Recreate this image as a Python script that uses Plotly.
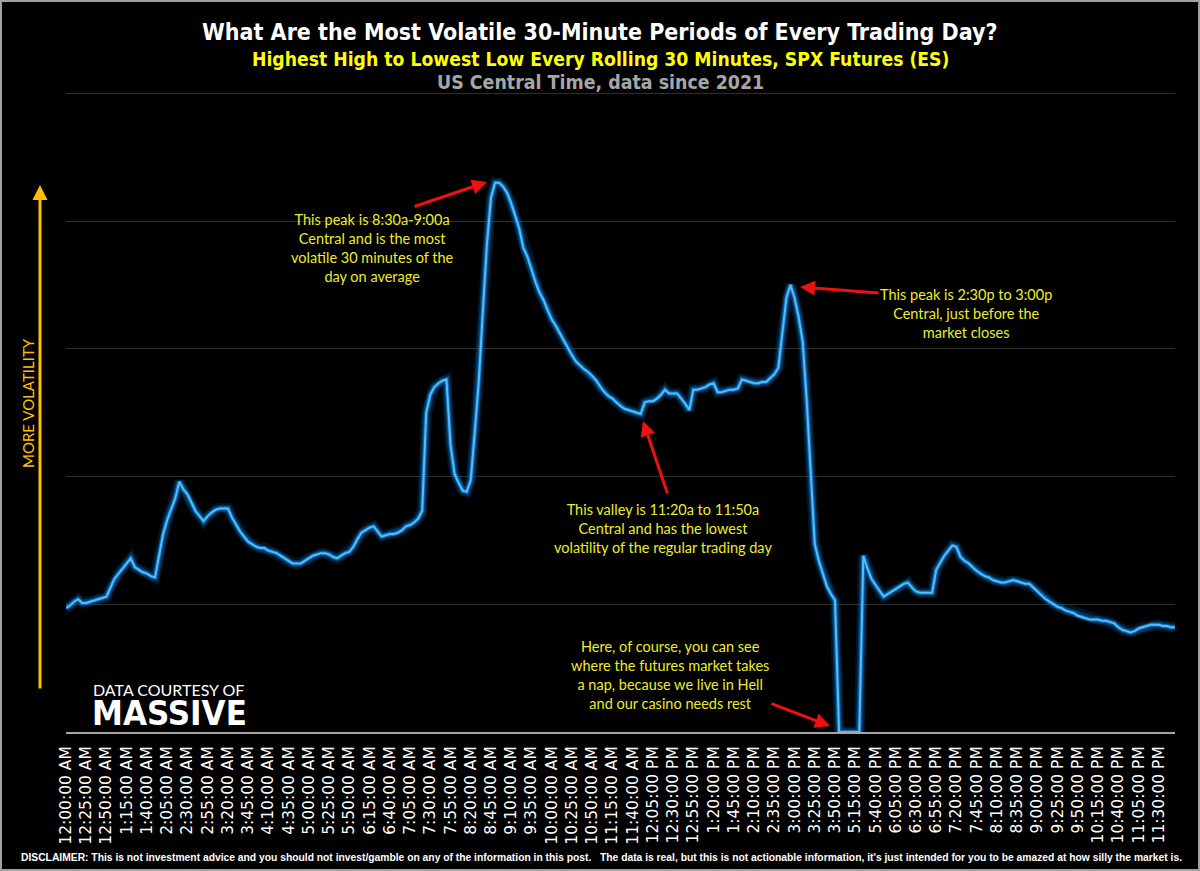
import plotly.graph_objects as go

# Categories: 5-minute bars (US Central), the futures break 4:05p-5:00p is not in the data
times = []
for m in range(0, 1435, 5):
    if 965 <= m <= 1020:
        continue
    h, mm = divmod(m, 60)
    h12 = h % 12 or 12
    times.append(f"{h12}:{mm:02d}:00 {'AM' if h < 12 else 'PM'}")

# Rolling 30-minute range (highest high - lowest low)
volatility = [
    0.97, 0.99, 1.02, 1.04, 1.01, 1.01, 1.02, 1.03, 1.04, 1.05,
    1.06, 1.13, 1.20, 1.24, 1.28, 1.32, 1.36, 1.29, 1.27, 1.25,
    1.24, 1.22, 1.21, 1.38, 1.55, 1.66, 1.75, 1.83, 1.96, 1.90,
    1.86, 1.79, 1.73, 1.69, 1.65, 1.69, 1.72, 1.74, 1.75, 1.75,
    1.75, 1.68, 1.62, 1.57, 1.53, 1.49, 1.47, 1.45, 1.44, 1.44,
    1.42, 1.41, 1.40, 1.38, 1.36, 1.34, 1.32, 1.32, 1.32, 1.34,
    1.36, 1.38, 1.39, 1.40, 1.40, 1.39, 1.37, 1.36, 1.38, 1.40,
    1.41, 1.45, 1.51, 1.56, 1.58, 1.60, 1.61, 1.57, 1.53, 1.54,
    1.55, 1.55, 1.56, 1.58, 1.61, 1.62, 1.64, 1.67, 1.73, 2.50,
    2.64, 2.70, 2.73, 2.75, 2.76, 2.25, 2.02, 1.95, 1.89, 1.88,
    1.97, 2.35, 2.75, 3.30, 3.82, 4.18, 4.30, 4.30, 4.27, 4.22,
    4.14, 4.04, 3.94, 3.79, 3.72, 3.62, 3.52, 3.44, 3.38, 3.30,
    3.23, 3.18, 3.12, 3.06, 3.00, 2.95, 2.90, 2.87, 2.84, 2.82,
    2.79, 2.75, 2.70, 2.66, 2.63, 2.61, 2.58, 2.55, 2.53, 2.52,
    2.51, 2.50, 2.49, 2.58, 2.59, 2.59, 2.61, 2.64, 2.68, 2.65,
    2.65, 2.65, 2.61, 2.57, 2.52, 2.68, 2.68, 2.69, 2.70, 2.72,
    2.73, 2.66, 2.66, 2.67, 2.68, 2.68, 2.69, 2.76, 2.75, 2.74,
    2.73, 2.73, 2.74, 2.74, 2.77, 2.80, 2.85, 3.15, 3.40, 3.50,
    3.40, 3.25, 3.06, 2.60, 1.99, 1.47, 1.34, 1.24, 1.14, 1.08,
    1.03, 0.00, 0.00, 0.00, 0.00, 0.00, 0.00, 1.38, 1.28, 1.20,
    1.15, 1.10, 1.06, 1.08, 1.10, 1.12, 1.14, 1.16, 1.17, 1.13,
    1.10, 1.09, 1.09, 1.09, 1.09, 1.27, 1.33, 1.38, 1.42, 1.46,
    1.45, 1.37, 1.34, 1.32, 1.29, 1.26, 1.24, 1.22, 1.21, 1.19,
    1.18, 1.17, 1.17, 1.18, 1.19, 1.18, 1.17, 1.16, 1.16, 1.13,
    1.10, 1.07, 1.04, 1.02, 1.00, 0.98, 0.97, 0.95, 0.94, 0.93,
    0.91, 0.90, 0.89, 0.88, 0.88, 0.88, 0.87, 0.87, 0.86, 0.85,
    0.82, 0.80, 0.79, 0.78, 0.79, 0.81, 0.82, 0.83, 0.84, 0.84,
    0.84, 0.83, 0.83, 0.82, 0.82,
]

# tick labels every 25 minutes
tick_labels = times[::5]

# plot area in pixels (used to place the texts and arrows)
L, R, T, B = 66, 1175, 92, 732


def px(x):
    return (x - L) / (R - L)


def py(y):
    return (B - y) / (B - T)


def label(x, y, text, font, **kw):
    return dict(x=px(x), y=py(y), xref="paper", yref="paper", showarrow=False,
                xanchor=kw.pop("xanchor", "center"), yanchor="middle", text=text, font=font, **kw)


def arrow(head, tail, color, width=3):
    return dict(x=px(head[0]), y=py(head[1]), xref="paper", yref="paper",
                ax=tail[0] - head[0], ay=tail[1] - head[1], text="", showarrow=True,
                arrowhead=2, arrowsize=1, arrowwidth=width, arrowcolor=color)


fig = go.Figure()

# glow layers + core line
for w, col in [(11, "rgba(0,110,200,0.18)"), (7, "rgba(0,120,215,0.35)"), (4, "rgba(20,140,230,0.6)"), (2, "#55bcf8")]:
    fig.add_trace(go.Scatter(x=times, y=volatility, mode="lines",
                             line=dict(color=col, width=w), hoverinfo="skip", showlegend=False))

sans = "Liberation Sans"
cond = "DejaVu Sans Condensed, Liberation Sans"
note = "Lato"
yellow = "#ecec2c"
red = "#ee1111"
note_font = dict(family=note, size=14.5, color=yellow)

annotations = [
    label(600, 32, "<b>What Are the Most Volatile 30-Minute Periods of Every Trading Day?</b>",
          dict(family=cond, size=23, color="white")),
    label(600, 60, "<b>Highest High to Lowest Low Every Rolling 30 Minutes, SPX Futures (ES)</b>",
          dict(family=cond, size=19.2, color="#ffff00")),
    label(600, 83, "<b>US Central Time, data since 2021</b>",
          dict(family=cond, size=19.4, color="#a6a6a6")),
    label(601, 857, "<b>DISCLAIMER: This is not investment advice and you should not invest/gamble on any of the information in this post.   "
                    "The data is real, but this is not actionable information, it's just intended for you to be amazed at how silly the market is.</b>",
          dict(family=sans, size=10.3, color="white")),
    # notes
    label(372, 248, "This peak is 8:30a-9:00a<br>Central and is the most<br>volatile 30 minutes of the<br>day on average", note_font),
    label(966, 313, "This peak is 2:30p to 3:00p<br>Central, just before the<br>market closes", note_font),
    label(663, 528, "This valley is 11:20a to 11:50a<br>Central and has the lowest<br>volatility of the regular trading day", note_font),
    label(670, 675, "Here, of course, you can see<br>where the futures market takes<br>a nap, because we live in Hell<br>and our casino needs rest", note_font),
    # red arrows
    arrow((487, 182), (413, 207), red),
    arrow((800, 287), (880, 293), red),
    arrow((643, 421), (668, 495), red),
    arrow((830, 726), (770, 703), red),
    # left axis arrow and its label
    arrow((40, 185), (40, 690), "#ffc000"),
    label(28, 403, "MORE VOLATILITY", dict(family=note, size=15, color="#ffc000"), textangle=-90),
    # data credit
    label(91, 689, "DATA COURTESY OF", dict(family=note, size=16, color="white"), xanchor="left"),
    label(90, 713, "<b>MASSIVE</b>", dict(family=cond, size=34.5, color="white"), xanchor="left"),
]

fig.update_layout(
    width=1200, height=871,
    paper_bgcolor="black", plot_bgcolor="black",
    margin=dict(l=L, r=1200 - R, t=T, b=871 - B),
    annotations=annotations,
    shapes=[dict(type="rect", xref="paper", yref="paper",
                 x0=px(1), x1=px(1199), y0=py(870), y1=py(1),
                 line=dict(color="#a0a0a0", width=2))],
    xaxis=dict(type="category", range=[0, len(times) - 1], showgrid=False,
               tickmode="array", tickvals=tick_labels, ticktext=tick_labels,
               tickangle=-90, tickfont=dict(family="DejaVu Sans", size=15.5, color="white"),
               ticks="outside", ticklen=6, tickcolor="black",
               showline=True, linecolor="#a6a6a6", linewidth=2, zeroline=False),
    yaxis=dict(range=[0, 5.01], dtick=1, showgrid=True, gridcolor="#2e2e2e", gridwidth=1,
               showticklabels=False, zeroline=False, showline=False),
)

fig.write_html("out.html", config={"displayModeBar": False},
               post_script="document.body.style.margin='0';")
